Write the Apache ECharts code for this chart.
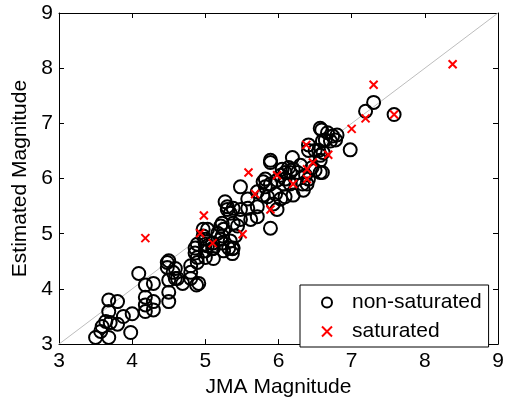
<!DOCTYPE html>
<html>
<head>
<meta charset="utf-8">
<script src="https://cdn.jsdelivr.net/npm/echarts@6/dist/echarts.min.js"></script>
<style>
html,body{margin:0;padding:0;background:#fff;}
#chart{width:507px;height:403px;}
</style>
</head>
<body>
<div id="chart"></div>
<script>
// Axis ticks
var axisTicks = [3, 4, 5, 6, 7, 8, 9];
var seriesNames = ['non-saturated', 'saturated'];
var refLine = [3, 9];

// non-saturated: [JMA, Estimated]
var nonSaturated = [
  [3.50,3.12],[3.68,3.12],[3.98,3.21],[3.59,3.32],[3.70,3.39],[3.80,3.36],[3.68,3.59],[3.68,3.80],
  [3.80,3.77],[3.88,3.50],[4.00,3.55],[4.09,4.28],[4.18,4.07],[4.29,4.10],[4.18,3.85],[4.18,3.71],
  [4.18,3.59],[4.29,3.77],[4.29,3.62],[4.50,4.51],[4.50,4.16],[4.50,3.94],[4.50,3.77],[4.59,4.37],
  [4.59,4.19],[3.64,3.41],[3.57,3.23],
  [4.48,4.39],[4.56,4.30],[4.62,4.19],[4.69,4.10],[4.80,4.42],[4.80,4.30],[4.80,4.19],[4.89,4.57],
  [4.89,4.48],[4.91,4.10],[4.86,4.74],[4.86,4.65],[4.97,5.08],[5.00,4.90],[5.00,4.81],[5.00,4.69],
  [5.00,4.57],[5.10,4.83],[5.10,4.73],[5.11,4.55],[5.23,5.19],[5.25,5.08],[5.23,4.96],[5.23,4.83],
  [5.27,5.58],[5.30,5.49],[5.34,5.37],[5.37,4.73],[5.37,4.64],[5.41,4.96],[5.44,5.14],
  [5.89,6.29],[6.05,6.17],[5.48,5.85],[5.79,5.94],[5.89,5.90],[5.98,5.97],[5.71,5.76],[5.79,5.70],
  [5.58,5.63],[5.30,5.44],[5.38,5.46],[5.48,5.44],[5.58,5.46],[5.71,5.49],[5.71,5.31],[5.62,5.26],
  [5.48,5.26],[5.38,5.19],[5.89,5.10],[5.98,5.44],[6.03,5.63],[6.09,5.67],[5.21,5.14],[5.03,5.08],
  [4.97,4.96],[5.17,5.01],[5.21,4.90],[5.34,4.87],[5.38,4.74],[5.11,4.74],[5.25,4.69],[5.03,4.78],
  [6.57,6.91],[6.67,6.83],[6.74,6.77],[6.80,6.79],[6.78,6.70],[6.71,6.68],[6.64,6.70],[6.98,6.52],
  [6.41,6.61],[6.41,6.51],[6.55,6.51],[6.57,6.42],[6.61,6.47],[6.19,6.38],[5.89,6.33],[6.30,6.24],
  [6.14,6.20],[6.20,6.17],[6.09,6.11],[6.16,6.11],[6.26,6.11],[6.46,6.20],[6.50,6.15],[6.57,6.11],
  [6.37,6.06],[6.41,5.99],[6.03,6.06],[6.09,5.99],[6.07,5.90],[6.16,5.90],[5.82,5.99],[5.82,5.85],
  [5.96,5.72],[5.85,5.67],[6.20,5.70],[6.33,5.90],[6.34,5.79],[5.93,5.54],
  [7.30,7.38],[7.19,7.22],[7.58,7.16],[6.59,6.88],[6.60,6.68],[6.50,6.51],[6.57,6.33],[6.60,6.11],
  [6.39,5.90],[4.88,4.07],[4.89,4.81],[4.48,4.48],[5.32,4.74]
];

// saturated: [JMA, Estimated]
var saturated = [
  [4.18,4.92],[4.98,5.33],[5.59,6.11],[5.51,4.99],[5.68,5.72],[5.89,5.44],[5.98,6.06],[6.20,5.90],
  [6.39,6.17],[6.47,6.29],[6.68,6.43],[6.38,6.61],[7.00,6.90],[7.19,7.09],[7.30,7.70],[7.58,7.16],
  [8.38,8.07],[5.10,4.83],[4.93,5.01],[6.39,5.99]
];

var FONT = '"Liberation Sans", Arial, Helvetica, sans-serif';
var FS = 21;
var chart = echarts.init(document.getElementById('chart'));

function axisBase(extra) {
  var a = {
    type: 'value', min: axisTicks[0], max: axisTicks[axisTicks.length - 1], interval: 1,
    axisLine: { show: true, onZero: false, lineStyle: { color: '#000', width: 1 } },
    axisTick: { show: true, inside: true, length: 5, lineStyle: { color: '#000', width: 1 } },
    splitLine: { show: false },
    axisLabel: { show: true, color: '#000', fontSize: FS, fontFamily: FONT }
  };
  for (var k in extra) a[k] = extra[k];
  return a;
}

var option = {
  animation: false,
  backgroundColor: '#fff',
  grid: { left: 59, right: 9, top: 13, bottom: 53, containLabel: false },
  xAxis: [
    axisBase({ position: 'bottom', name: 'JMA Magnitude', nameLocation: 'middle', nameGap: 32,
      nameTextStyle: { color: '#000', fontSize: FS, fontFamily: FONT },
      axisLabel: { show: true, color: '#000', fontSize: FS, fontFamily: FONT, margin: 7 } }),
    axisBase({ position: 'top', axisLabel: { show: false } })
  ],
  yAxis: [
    axisBase({ position: 'left', name: 'Estimated Magnitude', nameLocation: 'middle', nameGap: 26,
      nameTextStyle: { color: '#000', fontSize: FS, fontFamily: FONT },
      axisLabel: { show: true, color: '#000', fontSize: FS, fontFamily: FONT, margin: 6 } }),
    axisBase({ position: 'right', axisLabel: { show: false } })
  ],
  legend: {
    data: seriesNames,
    orient: 'vertical',
    left: 300, top: 285,
    padding: [7, 7, 5, 21],
    itemGap: 8,
    itemWidth: 12, itemHeight: 10,
    backgroundColor: '#fff',
    borderColor: '#000', borderWidth: 1, borderRadius: 0,
    textStyle: { color: '#000', fontSize: FS, fontFamily: FONT, padding: [0, 0, 0, 14] }
  },
  series: [
    {
      type: 'line', silent: true, symbol: 'none', z: 1,
      data: refLine.map(function (v) { return [v, v]; }),
      lineStyle: { color: '#bdbdbd', width: 1 }
    },
    {
      name: seriesNames[0], type: 'scatter', z: 3,
      symbol: 'circle', symbolSize: 13,
      data: nonSaturated,
      itemStyle: { color: 'rgba(0,0,0,0)', borderColor: '#000', borderWidth: 2, opacity: 1 }
    },
    {
      name: seriesNames[1], type: 'scatter', z: 4,
      symbol: 'path://M0,0L10,10M10,0L0,10', symbolSize: 8,
      data: saturated,
      itemStyle: { color: 'rgba(0,0,0,0)', borderColor: '#ff0000', borderWidth: 2, opacity: 1 }
    }
  ]
};
chart.setOption(option);
</script>
</body>
</html>
